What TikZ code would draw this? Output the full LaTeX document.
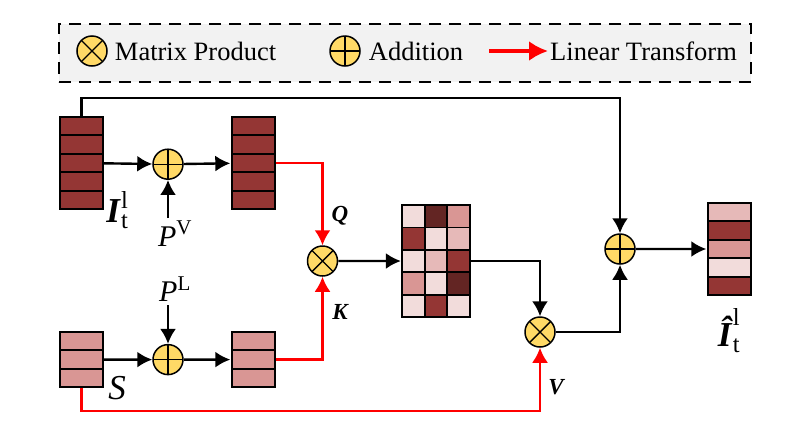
\documentclass[tikz,border=0pt]{standalone}
\usepackage{fontspec}
\setmainfont{Liberation Serif}
\usetikzlibrary{arrows.meta,positioning,fit}
\definecolor{cLight}{HTML}{F2DCDB}
\definecolor{cPale}{HTML}{E6B9B8}
\definecolor{cMid}{HTML}{D99694}
\definecolor{cDark}{HTML}{943634}
\definecolor{cDeep}{HTML}{632523}
\definecolor{opYellow}{HTML}{FFD966}
\definecolor{legGray}{HTML}{F2F2F2}
\newcommand{\boldit}[1]{\textbf{\textit{#1}}}

\begin{document}
\begin{tikzpicture}[
  x=1pt, y=-1pt,
  cell/.style={draw, line width=2pt, minimum width=43pt, minimum height=18.4pt, inner sep=0pt},
  mcell/.style={draw, line width=1.8pt, minimum width=22.7pt, minimum height=22.4pt, inner sep=0pt},
  op/.style={circle, draw, line width=1.5pt, fill=opYellow, minimum size=30pt, inner sep=0pt},
  addop/.style={op, path picture={\draw[line width=1.4pt]
      (path picture bounding box.north) -- (path picture bounding box.south)
      (path picture bounding box.west) -- (path picture bounding box.east);}},
  mulop/.style={op, path picture={\draw[line width=1.4pt]
      (path picture bounding box.north west) -- (path picture bounding box.south east)
      (path picture bounding box.north east) -- (path picture bounding box.south west);}},
  arr/.style={line width=2.4pt, -{Latex[length=15pt,width=16pt]}},
  lin/.style={arr, red},
  lbl/.style={font=\fontsize{35}{38}\selectfont, inner sep=0pt},
  plbl/.style={font=\fontsize{30}{32}\selectfont, inner sep=0pt},
  qkv/.style={font=\fontsize{23}{25}\selectfont\bfseries\itshape, inner sep=0pt},
  legtext/.style={font=\fontsize{26.5}{30}\selectfont, inner sep=0pt}
]
\useasboundingbox (0,0) rectangle (811,421);

% legend
\node[draw, line width=2.2pt, dash pattern=on 12pt off 8pt, fill=legGray,
      minimum width=692pt, minimum height=58pt] (legend) at (405,53) {};
\node[mulop] (legMul) at (92,51) {};
\node[legtext, right=7pt of legMul] (legMulTxt) {Matrix Product};
\node[addop] (legAdd) at (345,51) {};
\node[legtext, right=8pt of legAdd] (legAddTxt) {Addition};
\coordinate (legLinStart) at (489,51);
\node[legtext, anchor=west] (legLinTxt) at (550,51) {Linear Transform};
\draw[lin, line width=3.5pt, -{Latex[length=19pt,width=20pt]}, shorten >=2pt] (legLinStart) -- (legLinTxt.west);

% token stacks
\foreach \i in {1,...,5} \node[cell, fill=cDark] (in\i) at (81.5, {126.2+18.4*(\i-1)}) {};
\node[fit=(in1)(in5), inner sep=0pt] (imgIn) {};
\foreach \i in {1,...,5} \node[cell, fill=cDark] (qs\i) at (253, {126.2+18.4*(\i-1)}) {};
\node[fit=(qs1)(qs5), inner sep=0pt] (imgQ) {};
\foreach \i in {1,...,3} \node[cell, fill=cMid] (s\i) at (81.5, {341.2+18.4*(\i-1)}) {};
\node[fit=(s1)(s3), inner sep=0pt] (sIn) {};
\foreach \i in {1,...,3} \node[cell, fill=cMid] (ks\i) at (253, {341.2+18.4*(\i-1)}) {};
\node[fit=(ks1)(ks3), inner sep=0pt] (imgK) {};
\foreach \c [count=\i] in {cPale,cDark,cMid,cLight,cDark}
  \node[cell, fill=\c] (out\i) at (729, {212.2+18.4*(\i-1)}) {};
\node[fit=(out1)(out5), inner sep=0pt] (imgOut) {};

% attention map
\foreach \ca/\cb/\cc [count=\r] in {cLight/cDeep/cMid, cDark/cLight/cPale, cLight/cPale/cDark, cMid/cLight/cDeep, cLight/cDark/cLight} {
  \node[mcell, fill=\ca] (ma\r) at (413.3, {216.2+22.4*(\r-1)}) {};
  \node[mcell, fill=\cb] (mb\r) at (436, {216.2+22.4*(\r-1)}) {};
  \node[mcell, fill=\cc] (mc\r) at (458.7, {216.2+22.4*(\r-1)}) {};
}
\node[fit=(ma1)(mc5), inner sep=0pt] (attn) {};

% operators
\node[addop] (addV) at (168,164.2) {};
\node[addop] (addL) at (168,359.6) {};
\node[mulop] (mulQK) at (322.5,261) {};
\node[mulop] (mulV) at (540,332) {};
\node[addop] (addOut) at (620,249) {};

\coordinate (pv) at (168,218);
\node[plbl, below=3pt of pv, xshift=7pt] (pvLbl) {$\textit{P}^{\mathrm{V}}$};
\coordinate (pl) at (168,305);
\node[plbl, above=3pt of pl, xshift=7pt] (plLbl) {$\textit{P}^{\mathrm{L}}$};
\coordinate (topTurn) at (620,98);
\coordinate (vLow) at (540,411);

\draw[arr] (imgIn) -- (addV);
\draw[arr] (pv) -- (addV);
\draw[arr] (addV) -- (imgQ);
\draw[arr] (sIn) -- (addL);
\draw[arr] (pl) -- (addL);
\draw[arr] (addL) -- (imgK);
\draw[lin] (imgQ.east) -| (mulQK);
\draw[lin] (imgK.east) -| (mulQK);
\draw[arr] (mulQK) -- (attn);
\draw[arr] (attn.east) -| (mulV);
\draw[lin] (sIn.south) |- (vLow) -- (mulV);
\draw[arr] (mulV) -| (addOut);
\draw[arr] (imgIn.north) |- (topTurn) -- (addOut);
\draw[arr] (addOut) -- (imgOut);

% labels
\node[lbl, right=2pt of imgIn.south east] (inLbl) {$\boldit{I}^{\mathrm{l}}_{\mathrm{t}}$};
\node[lbl, right=4pt of sIn.south east] (sLbl) {\textit{S}};
\node[qkv] (qLbl) at (340,216) {Q};
\node[qkv] (kLbl) at (340,312) {K};
\node[qkv] (vLbl) at (556,387) {V};
\node[lbl] (outLbl) at (729,331) {$\boldit{\^I}^{\mathrm{l}}_{\mathrm{t}}$};
\end{tikzpicture}
\end{document}
